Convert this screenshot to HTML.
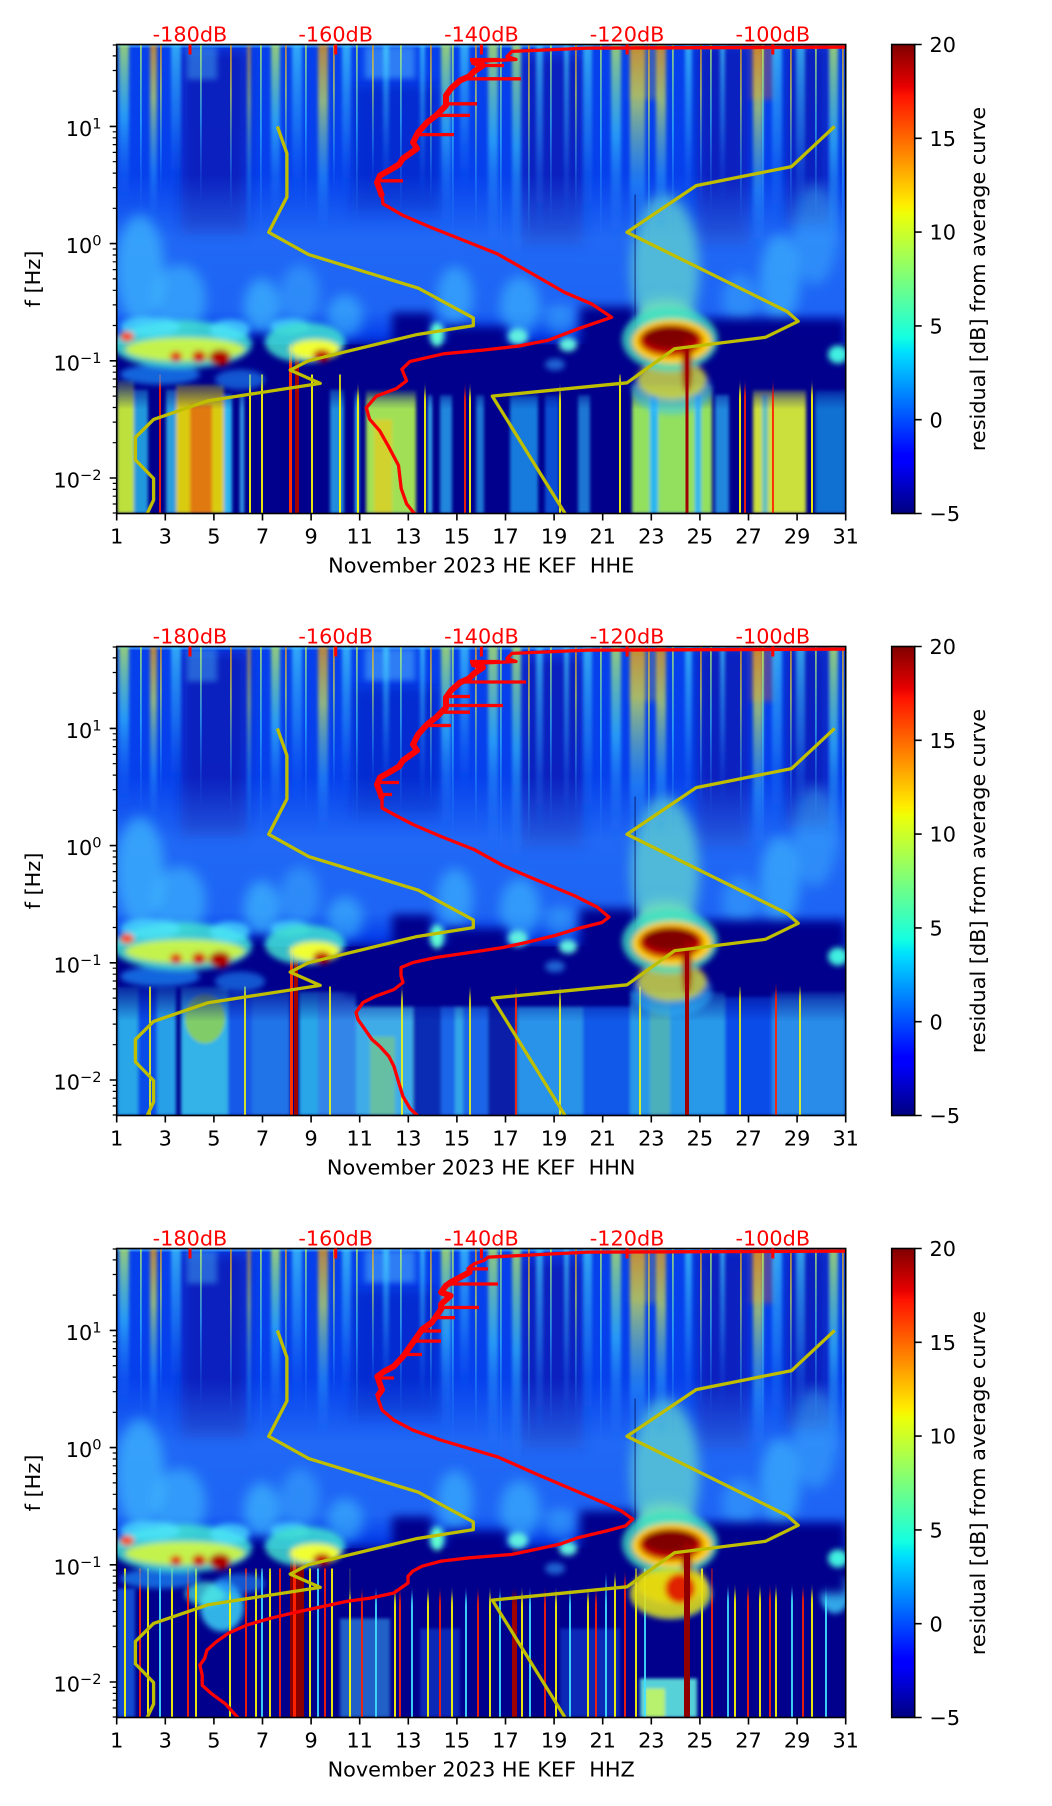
<!DOCTYPE html>
<html><head><meta charset="utf-8"><style>
html,body{margin:0;padding:0;background:#fff;width:1052px;height:1806px;overflow:hidden;}
svg{display:block;font-family:"DejaVu Sans","Liberation Sans",sans-serif;}
.t{font-size:20.8px;fill:#000;}
.db{font-size:20.8px;fill:#ff0000;text-anchor:middle;}
.xt{font-size:20.8px;fill:#000;text-anchor:middle;}
</style></head><body>
<svg xmlns="http://www.w3.org/2000/svg" width="1052" height="1806" viewBox="0 0 1052 1806">
<defs>
<clipPath id="cp"><rect x="116.7" y="0" width="729" height="469"/></clipPath>
<filter id="b1" x="-10%" y="-10%" width="120%" height="120%"><feGaussianBlur stdDeviation="1.5"/></filter>
<filter id="b3" x="-30%" y="-30%" width="160%" height="160%"><feGaussianBlur stdDeviation="3"/></filter>
<filter id="b5" x="-30%" y="-30%" width="160%" height="160%"><feGaussianBlur stdDeviation="5"/></filter>
<filter id="b6" x="-30%" y="-30%" width="160%" height="160%"><feGaussianBlur stdDeviation="6"/></filter>
<linearGradient id="fY" x1="0" y1="0" x2="0" y2="1"><stop offset="0" stop-color="#c8ff50" stop-opacity=".72"/><stop offset=".45" stop-color="#40e0ff" stop-opacity=".55"/><stop offset="1" stop-color="#2a80ff" stop-opacity="0"/></linearGradient>
<linearGradient id="fC" x1="0" y1="0" x2="0" y2="1"><stop offset="0" stop-color="#48e0ff" stop-opacity=".65"/><stop offset=".5" stop-color="#30b0ff" stop-opacity=".42"/><stop offset="1" stop-color="#1a70ff" stop-opacity="0"/></linearGradient>
<linearGradient id="fR" x1="0" y1="0" x2="0" y2="1"><stop offset="0" stop-color="#ffa000" stop-opacity=".7"/><stop offset=".3" stop-color="#e8ff40" stop-opacity=".6"/><stop offset=".7" stop-color="#40d0ff" stop-opacity=".35"/><stop offset="1" stop-color="#2080ff" stop-opacity="0"/></linearGradient>
<linearGradient id="mid" x1="0" y1="0" x2="0" y2="1"><stop offset="0" stop-color="#3a90ff" stop-opacity="0"/><stop offset=".4" stop-color="#3a90ff" stop-opacity=".5"/><stop offset=".85" stop-color="#3a90ff" stop-opacity=".45"/><stop offset="1" stop-color="#3a90ff" stop-opacity="0"/></linearGradient>
<linearGradient id="nf" x1="0" y1="0" x2="0" y2="1"><stop offset="0" stop-color="#00008c" stop-opacity="1"/><stop offset="1" stop-color="#00008c" stop-opacity="0"/></linearGradient>
<linearGradient id="jet" x1="0" y1="1" x2="0" y2="0">
<stop offset="0" stop-color="#000080"/><stop offset=".11" stop-color="#0000ff"/><stop offset=".125" stop-color="#0000ff"/><stop offset=".34" stop-color="#00dbff"/><stop offset=".35" stop-color="#00e6f7"/><stop offset=".375" stop-color="#14ffe2"/><stop offset=".5" stop-color="#7bff7b"/><stop offset=".64" stop-color="#eeff08"/><stop offset=".65" stop-color="#f7f500"/><stop offset=".66" stop-color="#ffec00"/><stop offset=".89" stop-color="#ff1300"/><stop offset=".91" stop-color="#e80000"/><stop offset="1" stop-color="#800000"/>
</linearGradient>

<g id="top">
<rect x="116.7" y="0" width="729" height="469" fill="#0640ec"/>
<g filter="url(#b6)" fill="#0a16b0" opacity=".75">
<rect x="181" y="5" width="66" height="185"/>
<rect x="521" y="10" width="62" height="190"/>
<rect x="697" y="0" width="52" height="200"/>
<rect x="786" y="0" width="43" height="180"/>
<rect x="352" y="40" width="88" height="130" opacity=".6"/>
</g>
<rect x="116.7" y="130" width="729" height="160" fill="url(#mid)"/>
<g filter="url(#b6)" fill="#48d0ff">
<ellipse cx="140" cy="225" rx="24" ry="55" opacity=".55"/>
<ellipse cx="180" cy="255" rx="26" ry="35" opacity=".5"/>
<ellipse cx="262" cy="262" rx="18" ry="28" opacity=".55"/>
<ellipse cx="300" cy="250" rx="20" ry="30" opacity=".35"/>
<ellipse cx="345" cy="272" rx="18" ry="22" opacity=".5"/>
<ellipse cx="455" cy="252" rx="18" ry="30" opacity=".5"/>
<ellipse cx="520" cy="262" rx="20" ry="30" opacity=".5"/>
<ellipse cx="665" cy="225" rx="34" ry="75" fill="#70f0c8" opacity=".6"/>
<ellipse cx="665" cy="275" rx="30" ry="20" fill="#90ffa0" opacity=".5"/>
<ellipse cx="780" cy="235" rx="20" ry="45" opacity=".5"/>
<ellipse cx="815" cy="190" rx="22" ry="50" opacity=".35"/>
<ellipse cx="740" cy="255" rx="18" ry="25" opacity=".35"/>
<ellipse cx="560" cy="275" rx="16" ry="15" opacity=".4"/>
</g>
<g filter="url(#b3)">
<rect x="365" y="2" width="50" height="32" fill="#60c8ff" opacity=".45"/>
<rect x="187" y="2" width="30" height="33" fill="#50c8ff" opacity=".4"/>
<rect x="750" y="0" width="24" height="55" fill="#ff6000" opacity=".3"/>
<rect x="630" y="0" width="30" height="55" fill="#ffd000" opacity=".2"/>
</g>
<rect x="116.7" y="0" width="729" height="3" fill="#40a0ff" opacity=".7"/>
<g filter="url(#b1)">
<rect x="119" y="0" width="10" height="160" fill="url(#fY)"/>
<rect x="150" y="0" width="7" height="180" fill="url(#fR)"/>
<rect x="171" y="0" width="10" height="150" fill="url(#fC)"/>
<rect x="247.5" y="0" width="3" height="190" fill="url(#fR)"/>
<rect x="271" y="0" width="9" height="180" fill="url(#fY)"/>
<rect x="292" y="0" width="10" height="160" fill="url(#fC)"/>
<rect x="318" y="0" width="10" height="190" fill="url(#fR)"/>
<rect x="342" y="0" width="9" height="160" fill="url(#fC)"/>
<rect x="383" y="0" width="6" height="150" fill="url(#fC)"/>
<rect x="420" y="0" width="5" height="160" fill="url(#fC)"/>
<rect x="441" y="0" width="10" height="190" fill="url(#fY)"/>
<rect x="460" y="0" width="9" height="150" fill="url(#fC)"/>
<rect x="488" y="0" width="10" height="210" fill="url(#fY)"/>
<rect x="512" y="0" width="9" height="225" fill="url(#fY)"/>
<rect x="536" y="0" width="7" height="190" fill="url(#fC)"/>
<rect x="564" y="0" width="5" height="180" fill="url(#fC)"/>
<rect x="583" y="0" width="9" height="190" fill="url(#fC)"/>
<rect x="611" y="0" width="10" height="200" fill="url(#fY)"/>
<rect x="630" y="0" width="15" height="200" fill="url(#fR)"/>
<rect x="656" y="0" width="10" height="190" fill="url(#fR)"/>
<rect x="685" y="0" width="7" height="170" fill="url(#fC)"/>
<rect x="720" y="0" width="5" height="160" fill="url(#fC)"/>
<rect x="753" y="0" width="10" height="210" fill="url(#fR)"/>
<rect x="772" y="0" width="10" height="190" fill="url(#fC)"/>
<rect x="796" y="0" width="9" height="180" fill="url(#fC)"/>
<rect x="829" y="0" width="9" height="220" fill="url(#fY)"/>
</g>
<g>
<rect x="140" y="0" width="1.8" height="170" fill="url(#fY)"/>
<rect x="160" y="0" width="1.8" height="150" fill="url(#fR)"/>
<rect x="200" y="0" width="1.8" height="160" fill="url(#fY)"/>
<rect x="230" y="0" width="1.8" height="170" fill="url(#fR)"/>
<rect x="260" y="0" width="1.8" height="190" fill="url(#fY)"/>
<rect x="285" y="0" width="1.8" height="160" fill="url(#fR)"/>
<rect x="305" y="0" width="1.8" height="170" fill="url(#fY)"/>
<rect x="333" y="0" width="1.8" height="150" fill="url(#fR)"/>
<rect x="356" y="0" width="1.8" height="180" fill="url(#fY)"/>
<rect x="372" y="0" width="1.8" height="140" fill="url(#fR)"/>
<rect x="400" y="0" width="1.8" height="170" fill="url(#fY)"/>
<rect x="430" y="0" width="1.8" height="160" fill="url(#fR)"/>
<rect x="452" y="0" width="1.8" height="200" fill="url(#fY)"/>
<rect x="475" y="0" width="1.8" height="190" fill="url(#fR)"/>
<rect x="500" y="0" width="1.8" height="210" fill="url(#fY)"/>
<rect x="528" y="0" width="1.8" height="200" fill="url(#fR)"/>
<rect x="550" y="0" width="1.8" height="180" fill="url(#fY)"/>
<rect x="575" y="0" width="1.8" height="170" fill="url(#fR)"/>
<rect x="600" y="0" width="1.8" height="200" fill="url(#fY)"/>
<rect x="648" y="0" width="1.8" height="210" fill="url(#fR)"/>
<rect x="672" y="0" width="1.8" height="190" fill="url(#fY)"/>
<rect x="700" y="0" width="1.8" height="160" fill="url(#fR)"/>
<rect x="710" y="0" width="1.8" height="170" fill="url(#fY)"/>
<rect x="740" y="0" width="1.8" height="180" fill="url(#fR)"/>
<rect x="762" y="0" width="1.8" height="200" fill="url(#fY)"/>
<rect x="790" y="0" width="1.8" height="170" fill="url(#fR)"/>
<rect x="815" y="0" width="1.8" height="190" fill="url(#fY)"/>
<rect x="842" y="0" width="1.8" height="200" fill="url(#fR)"/>
</g>
<rect x="634.5" y="150" width="1.2" height="319" fill="#000050" opacity=".6"/>
</g>

<g id="band">
<g filter="url(#b5)" fill="#00008c">
<rect x="392" y="268" width="40" height="35"/>
<rect x="445" y="282" width="62" height="50"/>
<rect x="580" y="262" width="55" height="70"/>
<rect x="700" y="274" width="146" height="30"/>
<rect x="712" y="300" width="134" height="45"/>
<rect x="345" y="298" width="260" height="50"/>
<rect x="248" y="290" width="20" height="30"/>
</g>
<g filter="url(#b3)">
<ellipse cx="160" cy="330" rx="40" ry="10" fill="#2090ff" opacity=".7"/>
<ellipse cx="240" cy="335" rx="25" ry="10" fill="#2090ff" opacity=".6"/>
<ellipse cx="182" cy="300" rx="70" ry="24" fill="#40e0d0" opacity=".85"/>
<ellipse cx="150" cy="282" rx="30" ry="10" fill="#50e8ff" opacity=".7"/>
<ellipse cx="230" cy="285" rx="20" ry="10" fill="#50e8ff" opacity=".7"/>
<ellipse cx="290" cy="282" rx="20" ry="8" fill="#50e8ff" opacity=".7"/>
<ellipse cx="185" cy="305" rx="60" ry="12" fill="#e8ff30" opacity=".8"/>
<ellipse cx="127" cy="292" rx="7" ry="5" fill="#ff4000"/>
<ellipse cx="176" cy="312" rx="6" ry="5" fill="#e00000"/>
<ellipse cx="199" cy="312" rx="7" ry="6" fill="#d00000"/>
<ellipse cx="220" cy="313" rx="11" ry="8" fill="#b00000"/>
<ellipse cx="305" cy="298" rx="40" ry="20" fill="#40e0d0" opacity=".85"/>
<ellipse cx="315" cy="305" rx="25" ry="10" fill="#f0ff30"/>
<ellipse cx="322" cy="311" rx="9" ry="6" fill="#c00000"/>
<ellipse cx="437" cy="290" rx="7" ry="12" fill="#60ffd0"/>
<ellipse cx="518" cy="292" rx="10" ry="8" fill="#60f0e0"/>
<ellipse cx="568" cy="300" rx="9" ry="7" fill="#60f0e0"/>
<ellipse cx="555" cy="320" rx="10" ry="6" fill="#30a0ff" opacity=".6"/>
<ellipse cx="838" cy="310" rx="10" ry="9" fill="#40f0e0"/>
<ellipse cx="672" cy="345" rx="40" ry="25" fill="#30c0ff" opacity=".5"/>
<ellipse cx="672" cy="335" rx="35" ry="20" fill="#f0e020" opacity=".7"/>
<ellipse cx="670" cy="295" rx="48" ry="32" fill="#40e0c0" opacity=".8"/>
<ellipse cx="672" cy="297" rx="40" ry="22" fill="#ffd000"/>
<ellipse cx="671" cy="296" rx="32" ry="16" fill="#c00000"/>
<ellipse cx="670" cy="293" rx="26" ry="11" fill="#800000"/>
<ellipse cx="687" cy="320" rx="5" ry="28" fill="#a00000"/>
</g>
</g>

<g id="yl" fill="none" stroke="#bfbf00" stroke-width="3.3" stroke-linejoin="round">
<polyline points="277.4,81.9 286.9,108.9 286.9,152.5 268.7,187.8 308.7,210.1 418.4,243.7 473.3,273.4 473.3,281.1 415.8,290.3 308.2,316.3 290.2,325.6 320.2,338.9 208.2,356.2 153.6,374.9 135.4,392.9 135.4,415.4 153.6,434 153.6,455.5 135.4,494"/>
<polyline points="834.6,81.9 791.6,122.1 696.2,141.1 627,187.8 787.3,267.1 798.2,276.8 765.4,292.8 674.4,304.3 627,338.3 492.3,351.6 570,477"/>
</g>

<g id="frame" fill="none" stroke="#000">
<rect x="116.7" y="44.5" width="729" height="469" stroke-width="1.6"/>
<path stroke-width="1.6" d="M116.7 513.5v7M165.3 513.5v7M213.9 513.5v7M262.5 513.5v7M311.1 513.5v7M359.7 513.5v7M408.3 513.5v7M456.9 513.5v7M505.5 513.5v7M554.1 513.5v7M602.7 513.5v7M651.3 513.5v7M699.9 513.5v7M748.5 513.5v7M797.1 513.5v7M845.7 513.5v7M109.7 126.4h7M109.7 243.6h7M109.7 360.8h7M109.7 478h7"/>
<path stroke-width="1.2" d="M112.7 91.1h4M112.7 70.5h4M112.7 55.9h4M112.7 45h4M112.7 208.3h4M112.7 187.7h4M112.7 173.1h4M112.7 161.7h4M112.7 152.4h4M112.7 144.6h4M112.7 137.8h4M112.7 131.8h4M112.7 325.5h4M112.7 304.9h4M112.7 290.3h4M112.7 278.9h4M112.7 269.6h4M112.7 261.8h4M112.7 255h4M112.7 249h4M112.7 442.7h4M112.7 422.1h4M112.7 407.5h4M112.7 396.1h4M112.7 386.8h4M112.7 379h4M112.7 372.2h4M112.7 366.2h4M112.7 513h4M112.7 504h4M112.7 496.2h4M112.7 489.4h4M112.7 483.4h4"/>
<rect x="891.7" y="44.5" width="23" height="469" fill="url(#jet)" stroke-width="1.6"/>
<path stroke-width="1.6" d="M914.7 44.5h7M914.7 138.3h7M914.7 232.1h7M914.7 325.9h7M914.7 419.7h7M914.7 513.5h7"/>
<g fill="#ff0000" stroke="none"><rect x="188.5" y="44.5" width="3" height="10"/><rect x="334.2" y="44.5" width="3" height="10"/><rect x="479.9" y="44.5" width="3" height="10"/><rect x="625.6" y="44.5" width="3" height="10"/><rect x="771.3" y="44.5" width="3" height="10"/></g>
</g>
</defs>

<rect x="0" y="0" width="1052" height="1806" fill="#fff"/>

<!-- ================= PANEL 1 ================= -->
<g transform="translate(0,0)">
<g transform="translate(0,44.5)" clip-path="url(#cp)">
<use href="#top"/>
<rect x="116.7" y="300" width="729" height="169" fill="#00008c"/>
<g filter="url(#b1)" opacity=".88">
<rect x="117" y="335" width="17" height="134" fill="#d8ff30"/>
<rect x="134" y="345" width="14" height="124" fill="#30d8ff" opacity=".8"/>
<rect x="166" y="345" width="10" height="124" fill="#40e0ff" opacity=".8"/>
<rect x="176" y="340" width="48" height="129" fill="#f8e800"/>
<rect x="190" y="360" width="22" height="109" fill="#ff8a00"/>
<rect x="224" y="350" width="8" height="119" fill="#30d0ff"/>
<rect x="240" y="350" width="4" height="119" fill="#40c0ff"/>
<rect x="330" y="345" width="14" height="124" fill="#30c8ff" opacity=".8"/>
<rect x="355" y="345" width="4" height="124" fill="#40d0ff"/>
<rect x="366" y="345" width="50" height="124" fill="#b8ff50"/>
<rect x="374" y="375" width="18" height="94" fill="#f0f020"/>
<rect x="428" y="350" width="4" height="119" fill="#40d0ff"/>
<rect x="440" y="350" width="12" height="119" fill="#30c0ff" opacity=".8"/>
<rect x="476" y="350" width="8" height="119" fill="#30c0ff" opacity=".7"/>
<rect x="510" y="350" width="28" height="119" fill="#20b0ff" opacity=".8"/>
<rect x="545" y="350" width="14" height="119" fill="#1080ff" opacity=".7"/>
<rect x="578" y="350" width="12" height="119" fill="#30c0ff" opacity=".7"/>
<rect x="632" y="340" width="80" height="129" fill="#a8ff58"/>
<rect x="650" y="350" width="8" height="119" fill="#30d0ff"/>
<rect x="695" y="350" width="6" height="119" fill="#30d0ff"/>
<rect x="715" y="350" width="14" height="119" fill="#30c0ff" opacity=".8"/>
<rect x="753" y="345" width="53" height="124" fill="#e8ff30"/>
<rect x="762" y="350" width="6" height="119" fill="#40d0ff" opacity=".7"/>
<rect x="815" y="345" width="31" height="124" fill="#20b8ff" opacity=".7"/>
</g>
<rect x="116.7" y="330" width="729" height="35" fill="url(#nf)"/>
<path fill="none" stroke="#ffff00" stroke-width="1.8" d="M250 330V469M262 330V469M312 330V469M340 330V469M358 330V469M425 330V469M470 330V469M560 330V469M620 330V469M740 330V469M812 330V469"/>
<path fill="none" stroke="#ff2000" stroke-width="1.8" d="M160 330V469M465 330V469M745 330V469M773 330V469"/>
<rect x="289" y="300" width="3" height="169" fill="#ff3000"/>
<rect x="295" y="300" width="4" height="169" fill="#a00000"/>
<use href="#band"/>
<rect x="685.5" y="300" width="3" height="169" fill="#a00000"/>
<use href="#yl"/>
<g fill="none" stroke="#ff0000" stroke-linejoin="round">
<polyline stroke-width="3.3" points="845.6,2.6 587.8,3.6 512,6.9 507,12 516,15 472,17 483,21 474,27 469,32 460,36 451,44 446,51 446,61 441,66 436,71 427,78 418,88 413,98 417,104 403,114 399,120 389,126 380,131 377,138 380,146 382,152 383,159.3 403,170.9 430,182.5 463.7,195.9 497.3,209.3 531,228.5 564.5,247.8 591.4,259.3 611.6,272.8 578,284.3 547.7,295.9 517.5,301.7 483.9,305.5 443.5,309.3 410,317 401.9,324.7 406.6,336.3 396.5,344 376.3,351.7 366.3,363.2 369.6,374.7 379.7,386.3 388.4,401.7 398.5,420.9 401.2,444 406.6,459.3 414.7,469.5 417,476"/>
<polyline stroke-width="6" points="472,17 483,21 474,27 469,32 460,36 451,44 446,51 446,61 441,66 436,71 427,78 418,88 413,98 417,104 403,114 399,120 389,126 380,131 377,138 380,146 382,152"/>
<path stroke-width="3.3" d="M477 21H504M460 34.3H521M446 59.3H477M436 70.9H470M418 90.1H454M377 136.3H403M470 15H500"/>
</g>
</g>
<use href="#frame"/>
<text class="db" x="190" y="41.5">-180dB</text><text class="db" x="335.7" y="41.5">-160dB</text><text class="db" x="481.4" y="41.5">-140dB</text><text class="db" x="627.1" y="41.5">-120dB</text><text class="db" x="772.8" y="41.5">-100dB</text>
<text class="xt" x="116.7" y="543.5">1</text><text class="xt" x="165.3" y="543.5">3</text><text class="xt" x="213.9" y="543.5">5</text><text class="xt" x="262.5" y="543.5">7</text><text class="xt" x="311.1" y="543.5">9</text><text class="xt" x="359.7" y="543.5">11</text><text class="xt" x="408.3" y="543.5">13</text><text class="xt" x="456.9" y="543.5">15</text><text class="xt" x="505.5" y="543.5">17</text><text class="xt" x="554.1" y="543.5">19</text><text class="xt" x="602.7" y="543.5">21</text><text class="xt" x="651.3" y="543.5">23</text><text class="xt" x="699.9" y="543.5">25</text><text class="xt" x="748.5" y="543.5">27</text><text class="xt" x="797.1" y="543.5">29</text><text class="xt" x="845.7" y="543.5">31</text>
<text class="t" x="101.5" y="136" text-anchor="end">10<tspan font-size="14.6" dy="-7.5">1</tspan></text>
<text class="t" x="101.5" y="253.2" text-anchor="end">10<tspan font-size="14.6" dy="-7.5">0</tspan></text>
<text class="t" x="101.5" y="370.4" text-anchor="end">10<tspan font-size="14.6" dy="-7.5">−1</tspan></text>
<text class="t" x="101.5" y="487.6" text-anchor="end">10<tspan font-size="14.6" dy="-7.5">−2</tspan></text>
<text class="t" x="481.2" y="572.5" text-anchor="middle" style="white-space:pre">November 2023 HE KEF  HHE</text>
<text class="t" transform="translate(40,279) rotate(-90)" text-anchor="middle">f [Hz]</text>
<text class="t" x="929.5" y="52.1">20</text><text class="t" x="929.5" y="145.9">15</text><text class="t" x="929.5" y="239.7">10</text><text class="t" x="929.5" y="333.5">5</text><text class="t" x="929.5" y="427.3">0</text><text class="t" x="929.5" y="521.1">−5</text>
<text class="t" transform="translate(985,279) rotate(-90)" text-anchor="middle">residual [dB] from average curve</text>
</g>

<!-- ================= PANEL 2 ================= -->
<g transform="translate(0,602)">
<g transform="translate(0,44.5)" clip-path="url(#cp)">
<use href="#top"/>
<rect x="116.7" y="300" width="729" height="169" fill="#00008c"/>
<g filter="url(#b1)" opacity=".8">
<rect x="117" y="340" width="21" height="129" fill="#30d0ff"/>
<rect x="138" y="340" width="19" height="129" fill="#1060ff"/>
<rect x="157" y="340" width="19" height="129" fill="#30c8ff"/>
<rect x="181" y="340" width="47" height="129" fill="#40e0ff"/>
<ellipse cx="205" cy="372" rx="20" ry="25" fill="#a0ff60"/>
<rect x="228" y="345" width="24" height="124" fill="#1a70ff"/>
<rect x="252" y="345" width="38" height="124" fill="#2a90ff"/>
<rect x="299" y="345" width="19" height="124" fill="#30d0ff"/>
<rect x="318" y="345" width="38" height="124" fill="#40a8ff"/>
<rect x="356" y="360" width="57" height="109" fill="#50d8ff"/>
<rect x="370" y="390" width="25" height="79" fill="#a0ff70" opacity=".6"/>
<rect x="413" y="360" width="28" height="109" fill="#0838c0"/>
<rect x="441" y="360" width="47" height="109" fill="#2080ff"/>
<rect x="455" y="360" width="8" height="109" fill="#40d0ff"/>
<rect x="488" y="360" width="29" height="109" fill="#0828b0"/>
<rect x="517" y="360" width="66" height="109" fill="#30b8ff"/>
<rect x="583" y="360" width="47" height="109" fill="#1870ff"/>
<rect x="630" y="345" width="95" height="124" fill="#30c0ff"/>
<rect x="650" y="350" width="20" height="119" fill="#80f0a0" opacity=".6"/>
<rect x="725" y="350" width="47" height="119" fill="#1060ff"/>
<rect x="772" y="345" width="74" height="124" fill="#30b0ff"/>
</g>
<rect x="116.7" y="330" width="729" height="45" fill="url(#nf)"/>
<path fill="none" stroke="#ffff00" stroke-width="1.6" d="M150 340V469M245 340V469M330 340V469M402 340V469M470 340V469M560 340V469M640 340V469M740 340V469M800 340V469"/>
<path fill="none" stroke="#ff2000" stroke-width="1.8" d="M516 310V469M776 330V469"/>
<rect x="290" y="300" width="3" height="169" fill="#ff3000"/>
<rect x="294" y="300" width="4" height="169" fill="#a00000"/>
<use href="#band"/>
<rect x="685" y="300" width="4" height="169" fill="#a00000"/>
<use href="#yl"/>
<g fill="none" stroke="#ff0000" stroke-linejoin="round">
<polyline stroke-width="3.3" points="845.6,2.6 587.8,3.6 512,6.9 507,12 516,15 472,17 483,21 474,27 469,32 460,36 451,44 446,51 446,61 441,66 436,71 427,78 418,88 413,98 417,104 403,114 399,120 389,126 380,131 377,138 380,146 382,152 382,161.5 394,168 413,178 441,190 474,203 503,219 526,229 550,239 574,249 597,260.5 609,270.6 602,276 578,282 555,289 526,296 503,301 470,306 436,311 413,316 401,321 401,329 403,336 394,343 375,350 363,356 356,366 358,373 365,383 372,393 380,400 389,410 394,420 399,437 403,450 410,462 420,471.5 423,476"/>
<polyline stroke-width="6" points="472,17 483,21 474,27 469,32 460,36 451,44 446,51 446,61 441,66 436,71 427,78 418,88 413,98 417,104 403,114 399,120 389,126 380,131 377,138 380,146 382,152"/>
<path stroke-width="3.3" d="M460 35.5H526M446 59H503M441 65.7H470M427 79H451M377 136H399M380 148H392M470 15H500M446 50H470"/>
</g>
</g>
<use href="#frame"/>
<text class="db" x="190" y="41.5">-180dB</text><text class="db" x="335.7" y="41.5">-160dB</text><text class="db" x="481.4" y="41.5">-140dB</text><text class="db" x="627.1" y="41.5">-120dB</text><text class="db" x="772.8" y="41.5">-100dB</text>
<text class="xt" x="116.7" y="543.5">1</text><text class="xt" x="165.3" y="543.5">3</text><text class="xt" x="213.9" y="543.5">5</text><text class="xt" x="262.5" y="543.5">7</text><text class="xt" x="311.1" y="543.5">9</text><text class="xt" x="359.7" y="543.5">11</text><text class="xt" x="408.3" y="543.5">13</text><text class="xt" x="456.9" y="543.5">15</text><text class="xt" x="505.5" y="543.5">17</text><text class="xt" x="554.1" y="543.5">19</text><text class="xt" x="602.7" y="543.5">21</text><text class="xt" x="651.3" y="543.5">23</text><text class="xt" x="699.9" y="543.5">25</text><text class="xt" x="748.5" y="543.5">27</text><text class="xt" x="797.1" y="543.5">29</text><text class="xt" x="845.7" y="543.5">31</text>
<text class="t" x="101.5" y="136" text-anchor="end">10<tspan font-size="14.6" dy="-7.5">1</tspan></text>
<text class="t" x="101.5" y="253.2" text-anchor="end">10<tspan font-size="14.6" dy="-7.5">0</tspan></text>
<text class="t" x="101.5" y="370.4" text-anchor="end">10<tspan font-size="14.6" dy="-7.5">−1</tspan></text>
<text class="t" x="101.5" y="487.6" text-anchor="end">10<tspan font-size="14.6" dy="-7.5">−2</tspan></text>
<text class="t" x="481.2" y="572.5" text-anchor="middle" style="white-space:pre">November 2023 HE KEF  HHN</text>
<text class="t" transform="translate(40,279) rotate(-90)" text-anchor="middle">f [Hz]</text>
<text class="t" x="929.5" y="52.1">20</text><text class="t" x="929.5" y="145.9">15</text><text class="t" x="929.5" y="239.7">10</text><text class="t" x="929.5" y="333.5">5</text><text class="t" x="929.5" y="427.3">0</text><text class="t" x="929.5" y="521.1">−5</text>
<text class="t" transform="translate(985,279) rotate(-90)" text-anchor="middle">residual [dB] from average curve</text>
</g>

<!-- ================= PANEL 3 ================= -->
<g transform="translate(0,1204)">
<g transform="translate(0,44.5)" clip-path="url(#cp)">
<use href="#top"/>
<rect x="116.7" y="300" width="729" height="169" fill="#00008c"/>
<g filter="url(#b1)">
<rect x="117" y="340" width="18" height="129" fill="#2080ff" opacity=".6"/>
<rect x="340" y="370" width="50" height="99" fill="#40c0ff" opacity=".5"/>
<rect x="420" y="380" width="40" height="89" fill="#1050e0" opacity=".5"/>
<rect x="560" y="380" width="60" height="89" fill="#1050e0" opacity=".5"/>
<rect x="640" y="430" width="57" height="39" fill="#60e8e0" opacity=".9"/>
<rect x="645" y="440" width="20" height="29" fill="#e0ff40" opacity=".7"/>
</g>
<g filter="url(#b3)">
<ellipse cx="222" cy="358" rx="22" ry="25" fill="#40e0ff" opacity=".8"/>
<ellipse cx="205" cy="345" rx="20" ry="12" fill="#50f0e0" opacity=".7"/>
<ellipse cx="835" cy="345" rx="15" ry="20" fill="#40d0ff" opacity=".8"/>
</g>
<path fill="none" stroke="#ffff00" stroke-width="1.8" d="M125 320V469M148 320V469M172 320V469M196 320V469M230 320V469M256 320V469M270 320V469M310 320V469M332 320V469M350 320V469M395 320V469M428 320V469M452 320V469M490 320V469M522 320V469M556 320V469M588 320V469M615 320V469M636 320V469M702 320V469M735 320V469M760 320V469M776 320V469M812 320V469"/>
<path fill="none" stroke="#ff2000" stroke-width="1.8" d="M140 320V469M188 320V469M246 320V469M280 320V469M325 320V469M362 320V469M400 320V469M440 320V469M478 320V469M545 320V469M596 320V469M625 320V469M712 320V469M748 320V469M770 320V469M803 320V469"/>
<path fill="none" stroke="#40e0ff" stroke-width="1.8" d="M160 320V469M262 320V469M318 320V469M376 320V469M412 320V469M466 320V469M500 320V469M530 320V469M570 320V469M606 320V469M645 320V469M728 320V469M792 320V469M826 320V469"/>
<rect x="290" y="300" width="14" height="169" fill="#8a0000"/>
<rect x="293" y="300" width="3" height="169" fill="#ff2000"/>
<rect x="512" y="300" width="5" height="169" fill="#a00000"/>
<use href="#band"/>
<g filter="url(#b3)">
<ellipse cx="670" cy="345" rx="40" ry="25" fill="#f0e000" opacity=".8"/>
<ellipse cx="680" cy="340" rx="15" ry="15" fill="#e02000"/>
</g>
<rect x="684" y="300" width="6" height="169" fill="#900000"/>
<use href="#yl"/>
<g fill="none" stroke="#ff0000" stroke-linejoin="round">
<polyline stroke-width="3.3" points="845.6,2.6 587.8,3.6 488.4,8.6 483.7,12 474.2,15.3 469.5,18.7 469.5,23.7 460,28.8 450.6,33.8 445.9,37.2 441.1,43.9 450.6,47.2 441.1,55.6 441.1,60.7 436.4,67.4 431.7,74.1 422.2,80.8 417.5,87.6 412.7,94.3 408,101 403.3,107.7 393.8,117.8 384.4,122.8 377.3,127.9 379.6,134.6 382,141.3 377.3,148 379.6,154.7 382,161.5 393.8,171.5 412.7,181.6 441.1,191.7 469.5,200.1 497.9,208.5 516.8,216.9 535.7,225.3 559.4,235.4 583,245.4 606.7,255.5 620.9,262.2 632.7,270.6 625.6,277.3 606.7,282.4 578.3,289.1 559.4,295.8 535.7,300.9 512.1,305.9 469.5,309.3 441.1,312.6 422.2,317.7 412.7,322.7 408,327.7 408,334.5 393.8,344.5 370.2,349.6 346.5,352.9 322.9,358 299.2,363 270.8,369.7 247.2,376.4 228.3,384.8 216.4,393.2 207,401.6 204.6,410 199.9,416.7 202.2,426.8 202.2,436.9 211.7,445.3 225.5,455.4 233,463.8 240.1,471.5 244,477"/>
<polyline stroke-width="6" points="469.5,18.7 469.5,23.7 460,28.8 450.6,33.8 445.9,37.2 441.1,43.9 450.6,47.2 441.1,55.6 441.1,60.7 436.4,67.4 431.7,74.1 422.2,80.8 417.5,87.6 412.7,94.3 408,101 403.3,107.7 393.8,117.8 384.4,122.8 377.3,127.9 379.6,134.6 382,141.3 377.3,148"/>
<path stroke-width="3.3" d="M469 20.4H488M450 35.5H498M441 59H479M436 69.1H455M422 82.5H441M413 92.6H441M403 106H422M377 129.5H394"/>
</g>
</g>
<use href="#frame"/>
<text class="db" x="190" y="41.5">-180dB</text><text class="db" x="335.7" y="41.5">-160dB</text><text class="db" x="481.4" y="41.5">-140dB</text><text class="db" x="627.1" y="41.5">-120dB</text><text class="db" x="772.8" y="41.5">-100dB</text>
<text class="xt" x="116.7" y="543.5">1</text><text class="xt" x="165.3" y="543.5">3</text><text class="xt" x="213.9" y="543.5">5</text><text class="xt" x="262.5" y="543.5">7</text><text class="xt" x="311.1" y="543.5">9</text><text class="xt" x="359.7" y="543.5">11</text><text class="xt" x="408.3" y="543.5">13</text><text class="xt" x="456.9" y="543.5">15</text><text class="xt" x="505.5" y="543.5">17</text><text class="xt" x="554.1" y="543.5">19</text><text class="xt" x="602.7" y="543.5">21</text><text class="xt" x="651.3" y="543.5">23</text><text class="xt" x="699.9" y="543.5">25</text><text class="xt" x="748.5" y="543.5">27</text><text class="xt" x="797.1" y="543.5">29</text><text class="xt" x="845.7" y="543.5">31</text>
<text class="t" x="101.5" y="136" text-anchor="end">10<tspan font-size="14.6" dy="-7.5">1</tspan></text>
<text class="t" x="101.5" y="253.2" text-anchor="end">10<tspan font-size="14.6" dy="-7.5">0</tspan></text>
<text class="t" x="101.5" y="370.4" text-anchor="end">10<tspan font-size="14.6" dy="-7.5">−1</tspan></text>
<text class="t" x="101.5" y="487.6" text-anchor="end">10<tspan font-size="14.6" dy="-7.5">−2</tspan></text>
<text class="t" x="481.2" y="572.5" text-anchor="middle" style="white-space:pre">November 2023 HE KEF  HHZ</text>
<text class="t" transform="translate(40,279) rotate(-90)" text-anchor="middle">f [Hz]</text>
<text class="t" x="929.5" y="52.1">20</text><text class="t" x="929.5" y="145.9">15</text><text class="t" x="929.5" y="239.7">10</text><text class="t" x="929.5" y="333.5">5</text><text class="t" x="929.5" y="427.3">0</text><text class="t" x="929.5" y="521.1">−5</text>
<text class="t" transform="translate(985,279) rotate(-90)" text-anchor="middle">residual [dB] from average curve</text>
</g>
</svg>
</body></html>
